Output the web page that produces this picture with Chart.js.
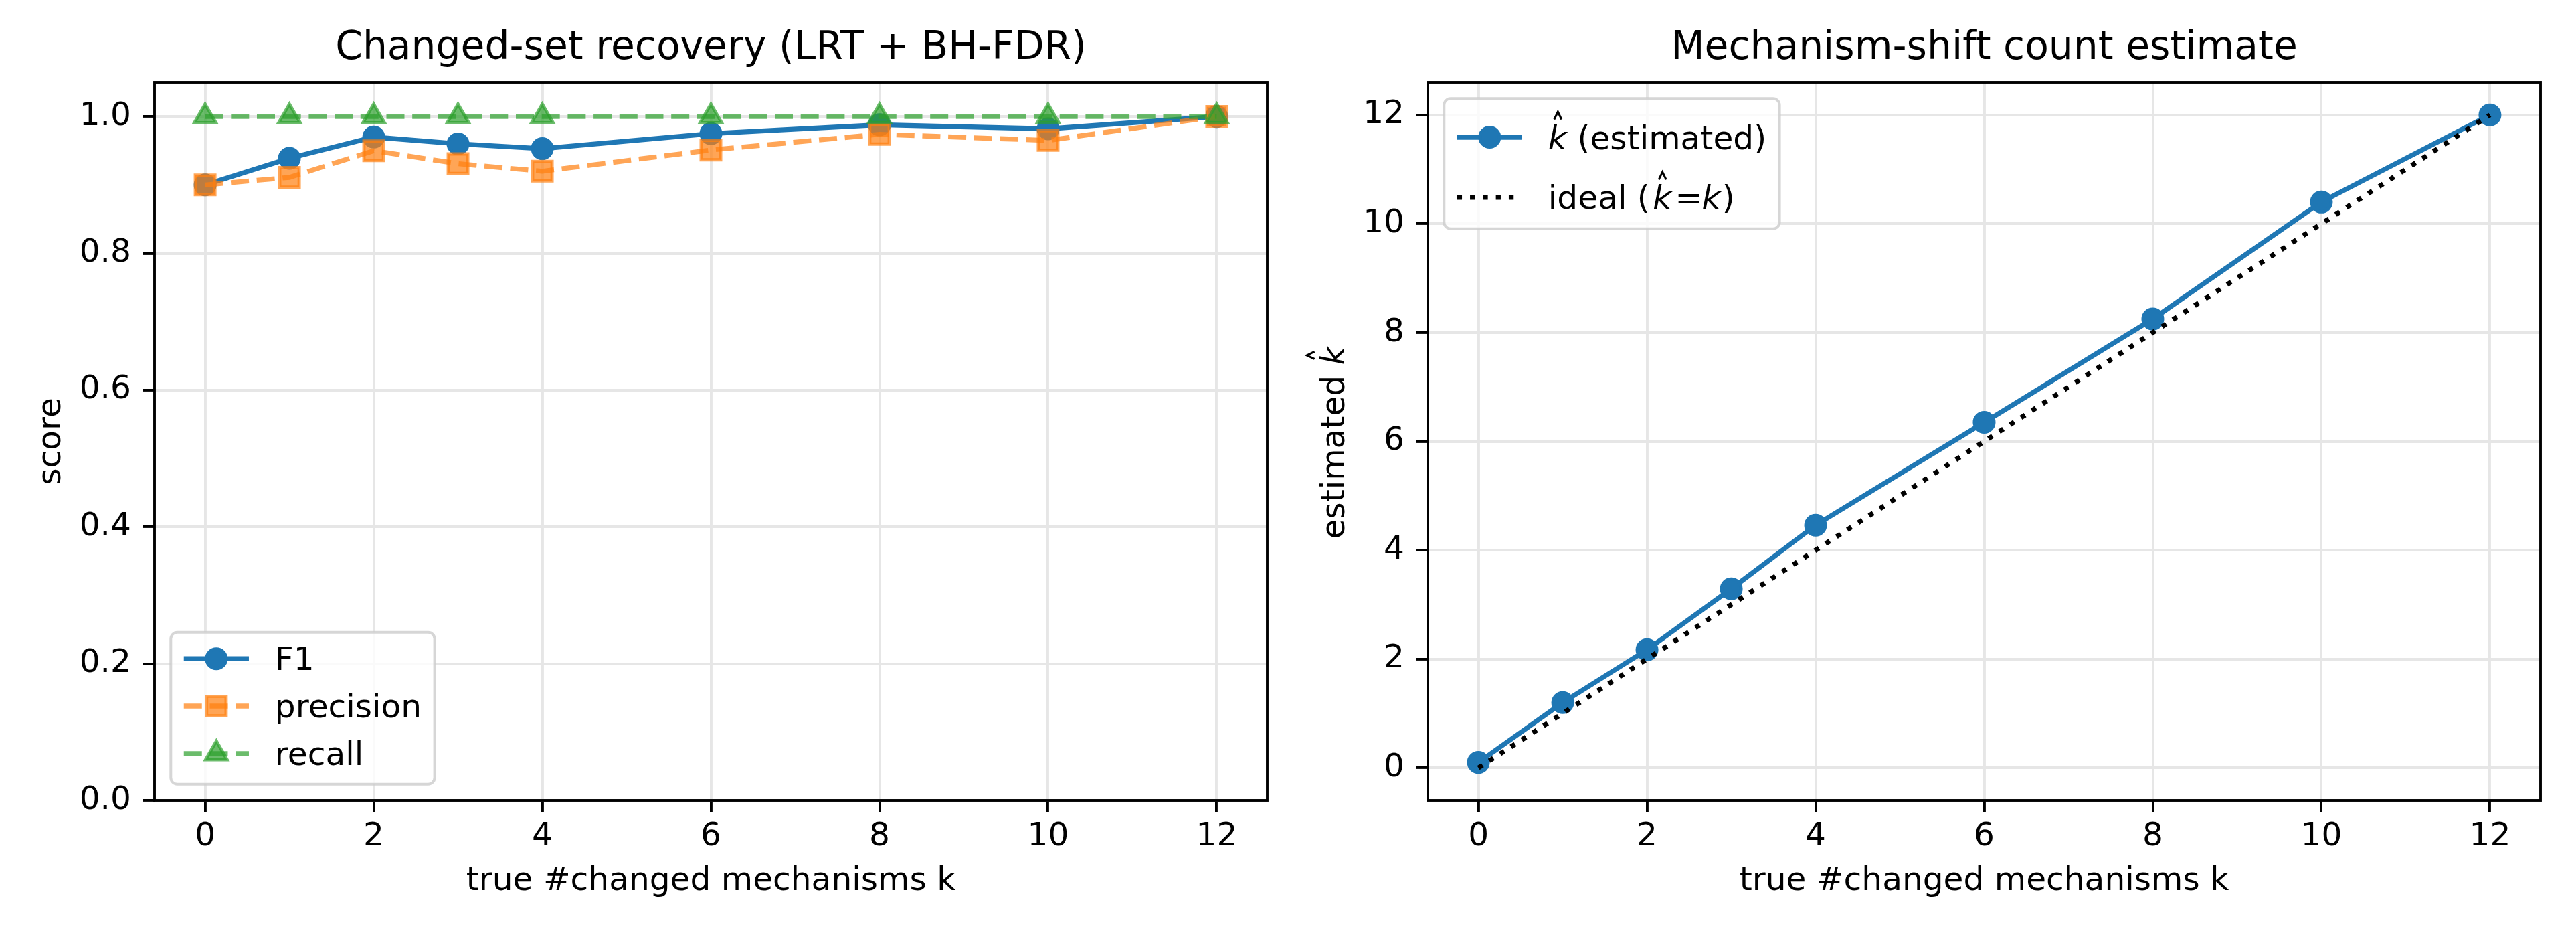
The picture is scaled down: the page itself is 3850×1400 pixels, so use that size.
<!DOCTYPE html>
<html><head><meta charset="utf-8">
<script src="https://cdn.jsdelivr.net/npm/chart.js@4.4.1/dist/chart.umd.min.js"></script>
<style>
html,body{margin:0;padding:0;background:#fff;}
body{width:3850px;height:1400px;position:relative;overflow:hidden;}
.box{position:absolute;top:0;height:1400px;width:1925px;}
</style></head><body>
<div class="box" style="left:0"><canvas id="c1"></canvas></div>
<div class="box" style="left:1925px"><canvas id="c2"></canvas></div>
<script>
// ---- data ----
const kValues = [0, 1, 2, 3, 4, 6, 8, 10, 12];
const f1Scores = [0.900, 0.939, 0.970, 0.960, 0.953, 0.975, 0.988, 0.982, 1.000];
const precisionScores = [0.900, 0.911, 0.950, 0.931, 0.920, 0.951, 0.974, 0.965, 1.000];
const recallScores = [1.0, 1.0, 1.0, 1.0, 1.0, 1.0, 1.0, 1.0, 1.0];
const kHatValues = [0.10, 1.20, 2.17, 3.29, 4.46, 6.35, 8.25, 10.40, 12.00];
const idealValues = [0, 1, 2, 3, 4, 6, 8, 10, 12];
const xTicks = [0, 2, 4, 6, 8, 10, 12];
const scoreTicks = [0.0, 0.2, 0.4, 0.6, 0.8, 1.0];
const kHatTicks = [0, 2, 4, 6, 8, 10, 12];

// ---- style ----
const PT = 350 / 72;
const FS = 10 * PT, TFS = 12 * PT;
const LW = 1.5 * PT, EW = 1.0 * PT, SPW = 0.8 * PT;
const GRID = '#e6e6e6';
const FONT = '"DejaVu Sans"';
Chart.defaults.font.family = FONT;
Chart.defaults.color = '#000';

function pts(xs, ys) { return xs.map((x, i) => ({x: x, y: ys[i]})); }

function xScale() {
  return {
    type: 'linear', min: -0.6, max: 12.6,
    afterBuildTicks: s => { s.ticks = xTicks.map(v => ({value: v})); },
    afterFit: s => { s.height = 204; },
    grid: {color: GRID, lineWidth: SPW, tickLength: 17, tickColor: '#000', tickWidth: SPW, drawTicks: true},
    border: {display: false},
    ticks: {padding: 8.5, font: {size: FS}, color: '#000', autoSkip: false, maxRotation: 0, callback: v => String(v)},
    title: {display: true, text: 'true #changed mechanisms k', font: {size: FS}, color: '#000', padding: {top: 0, bottom: 53.6}}
  };
}

function roundRect(ctx, x, y, w, h, r) {
  ctx.beginPath();
  ctx.moveTo(x + r, y);
  ctx.lineTo(x + w - r, y); ctx.arcTo(x + w, y, x + w, y + r, r);
  ctx.lineTo(x + w, y + h - r); ctx.arcTo(x + w, y + h, x + w - r, y + h, r);
  ctx.lineTo(x + r, y + h); ctx.arcTo(x, y + h, x, y + h - r, r);
  ctx.lineTo(x, y + r); ctx.arcTo(x, y, x + r, y, r);
  ctx.closePath();
}

// lay out text runs: normal runs follow the previous advance; runs with `ink`
// are placed so that the ink gap to the previous run equals `ink` (math spacing).
function layoutRich(ctx, runs) {
  let x = 0, prevInkRight = 0;
  const out = [];
  for (const r of runs) {
    const font = (r.it ? 'italic ' : '') + FS + 'px ' + FONT;
    ctx.font = font;
    const m = ctx.measureText(r.t);
    let ox = x;
    if (r.ink !== undefined) ox = prevInkRight + r.ink + m.actualBoundingBoxLeft;
    out.push({r: r, font: font, x: ox});
    x = ox + m.width;
    prevInkRight = ox + m.actualBoundingBoxRight;
  }
  return {items: out, width: Math.max(x, prevInkRight)};
}
function drawRich(ctx, runs, x0, y) {
  const L = layoutRich(ctx, runs);
  ctx.textAlign = 'left'; ctx.textBaseline = 'alphabetic'; ctx.fillStyle = '#000';
  for (const it of L.items) {
    ctx.font = it.font;
    const x = x0 + it.x;
    ctx.fillText(it.r.t, x, y);
    if (it.r.hat) {
      ctx.save();
      ctx.strokeStyle = '#000'; ctx.lineWidth = 3; ctx.setLineDash([]);
      ctx.lineJoin = 'miter'; ctx.lineCap = 'butt';
      ctx.beginPath();
      ctx.moveTo(x + 9, y - 44); ctx.lineTo(x + 14.5, y - 55.5); ctx.lineTo(x + 20, y - 44);
      ctx.stroke();
      ctx.restore();
    }
  }
  return L.width;
}

const BORDERPAD = 0.4 * FS, HANDLE = 2.0 * FS, HANDLEPAD = 0.8 * FS, LABELSP = 0.5 * FS, AXPAD = 0.5 * FS;

function drawLegend(chart, spec) {
  const ctx = chart.ctx, ca = chart.chartArea;
  const items = spec.items;
  ctx.save();
  const tw = Math.max(...items.map(it => layoutRich(ctx, it.runs).width));
  const W = BORDERPAD * 2 + HANDLE + HANDLEPAD + tw;
  const H = BORDERPAD * 2 + items.length * spec.rowH + (items.length - 1) * LABELSP;
  const x0 = ca.left + AXPAD;
  const y0 = spec.loc === 'upper left' ? ca.top + AXPAD : ca.bottom - AXPAD - H;
  roundRect(ctx, x0, y0, W, H, 0.2 * FS);
  ctx.fillStyle = 'rgba(255,255,255,0.8)';
  ctx.fill();
  ctx.lineWidth = 4; ctx.strokeStyle = 'rgba(204,204,204,0.8)'; ctx.setLineDash([]);
  ctx.stroke();
  items.forEach((it, i) => {
    const ds = chart.data.datasets[it.ds];
    const cy = y0 + spec.firstOff + i * (spec.rowH + LABELSP);
    const hx0 = x0 + BORDERPAD, hx1 = hx0 + HANDLE;
    ctx.save();
    ctx.strokeStyle = ds.borderColor; ctx.lineWidth = ds.borderWidth;
    ctx.lineCap = 'butt';
    ctx.setLineDash(ds.borderDash || []);
    ctx.beginPath(); ctx.moveTo(hx0, cy); ctx.lineTo(hx1, cy); ctx.stroke();
    ctx.setLineDash([]);
    if (ds.pointRadius > 0) {
      ctx.fillStyle = ds.pointBackgroundColor; ctx.strokeStyle = ds.pointBorderColor;
      ctx.lineWidth = ds.pointBorderWidth;
      Chart.helpers.drawPoint(ctx, {pointStyle: ds.pointStyle, radius: ds.pointRadius, borderWidth: ds.pointBorderWidth, rotation: 0}, (hx0 + hx1) / 2, cy);
    }
    ctx.restore();
    drawRich(ctx, it.runs, hx1 + HANDLEPAD, cy + spec.baseOff);
  });
  ctx.restore();
}

const decor = {
  id: 'decor',
  afterLayout(chart) {
    const t = chart.titleBlock, ca = chart.chartArea;
    if (t) { t.left = ca.left; t.right = ca.right; t.width = ca.right - ca.left; }
  },
  afterDatasetsDraw(chart) {
    const ctx = chart.ctx, ca = chart.chartArea;
    ctx.save();
    ctx.strokeStyle = '#000'; ctx.lineWidth = SPW; ctx.setLineDash([]);
    ctx.strokeRect(ca.left, ca.top, ca.right - ca.left, ca.bottom - ca.top);
    ctx.restore();
    const o = chart.options.plugins.decor;
    if (o && o.legend) drawLegend(chart, o.legend);
    if (o && o.yLabel) {
      ctx.save();
      const w = layoutRich(ctx, o.yLabel.runs).width;
      ctx.translate(o.yLabel.x, (ca.top + ca.bottom) / 2 + 1);
      ctx.rotate(-Math.PI / 2);
      drawRich(ctx, o.yLabel.runs, -w / 2, 0);
      ctx.restore();
    }
  }
};

function baseOptions(titleText, yScale, rightPad, decorOpts) {
  return {
    responsive: true, maintainAspectRatio: false, devicePixelRatio: 1,
    animation: false, events: [],
    layout: {padding: {left: 0, top: 0, right: rightPad, bottom: 0}},
    scales: {x: xScale(), y: yScale},
    plugins: {
      legend: {display: false}, tooltip: {enabled: false},
      title: {display: true, text: titleText, color: '#000', font: {size: TFS, weight: 'normal'}, padding: {top: 38.3, bottom: 14.7}},
      decor: decorOpts
    }
  };
}

// ---- chart 1: changed-set recovery ----
new Chart(document.getElementById('c1'), {
  type: 'line',
  data: {datasets: [
    {label: 'F1', data: pts(kValues, f1Scores), borderColor: '#1f77b4', backgroundColor: '#1f77b4',
     borderWidth: LW, pointStyle: 'circle', pointRadius: 14.6, pointBorderWidth: EW,
     pointBackgroundColor: '#1f77b4', pointBorderColor: '#1f77b4', tension: 0, order: 3, clip: false},
    {label: 'precision', data: pts(kValues, precisionScores), borderColor: 'rgba(255,127,14,0.7)', backgroundColor: 'rgba(255,127,14,0.7)',
     borderWidth: LW, borderDash: [27, 11.7], pointStyle: 'rect', pointRadius: 20.6, pointBorderWidth: EW,
     pointBackgroundColor: 'rgba(255,127,14,0.7)', pointBorderColor: 'rgba(255,127,14,0.7)', tension: 0, order: 2, clip: false},
    {label: 'recall', data: pts(kValues, recallScores), borderColor: 'rgba(44,160,44,0.7)', backgroundColor: 'rgba(44,160,44,0.7)',
     borderWidth: LW, borderDash: [27, 11.7], pointStyle: 'triangle', pointRadius: 18.5, pointBorderWidth: EW,
     pointBackgroundColor: 'rgba(44,160,44,0.7)', pointBorderColor: 'rgba(44,160,44,0.7)', tension: 0, order: 1, clip: false}
  ]},
  options: baseOptions('Changed-set recovery (LRT + BH-FDR)', {
    type: 'linear', min: 0, max: 1.05,
    afterBuildTicks: s => { s.ticks = scoreTicks.map(v => ({value: v})); },
    afterFit: s => { s.width = 231; },
    grid: {color: GRID, lineWidth: SPW, tickLength: 17, tickColor: '#000', tickWidth: SPW, drawTicks: true},
    border: {display: false},
    ticks: {padding: 18, font: {size: FS}, color: '#000', autoSkip: false, callback: v => Number(v).toFixed(1)},
    title: {display: true, text: 'score', font: {size: FS}, color: '#000', padding: {top: 48.6, bottom: 0}}
  }, 31, {
    legend: {loc: 'lower left', rowH: 46.5, firstOff: 39.5, baseOff: 16.7, items: [
      {ds: 0, runs: [{t: 'F1'}]},
      {ds: 1, runs: [{t: 'precision'}]},
      {ds: 2, runs: [{t: 'recall'}]}
    ]}
  }),
  plugins: [decor]
});

// ---- chart 2: mechanism-shift count estimate ----
new Chart(document.getElementById('c2'), {
  type: 'line',
  data: {datasets: [
    {label: 'k̂ (estimated)', data: pts(kValues, kHatValues), borderColor: '#1f77b4', backgroundColor: '#1f77b4',
     borderWidth: LW, pointStyle: 'circle', pointRadius: 14.6, pointBorderWidth: EW,
     pointBackgroundColor: '#1f77b4', pointBorderColor: '#1f77b4', tension: 0, order: 2, clip: false},
    {label: 'ideal (k̂ = k)', data: pts(kValues, idealValues), borderColor: '#000', backgroundColor: '#000',
     borderWidth: LW, borderDash: [7.3, 12], pointRadius: 0, tension: 0, order: 1, clip: false}
  ]},
  options: baseOptions('Mechanism-shift count estimate', {
    type: 'linear', min: -0.6, max: 12.6,
    afterBuildTicks: s => { s.ticks = kHatTicks.map(v => ({value: v})); },
    afterFit: s => { s.width = 209; },
    grid: {color: GRID, lineWidth: SPW, tickLength: 17, tickColor: '#000', tickWidth: SPW, drawTicks: true},
    border: {display: false},
    ticks: {padding: 18, font: {size: FS}, color: '#000', autoSkip: false, callback: v => String(v)},
    title: {display: false}
  }, 53, {
    legend: {loc: 'upper left', rowH: 65.6, firstOff: 57.7, baseOff: 17.5, items: [
      {ds: 0, runs: [{t: 'k', it: true, hat: true}, {t: ' (estimated)'}]},
      {ds: 1, runs: [{t: 'ideal ('}, {t: 'k', it: true, hat: true, ink: 8.3}, {t: '=', ink: 8.3}, {t: 'k', it: true, ink: 5}, {t: ')', ink: 3.3}]}
    ]},
    yLabel: {x: 2008.6 - 1925, runs: [{t: 'estimated '}, {t: 'k', it: true, hat: true}]}
  }),
  plugins: [decor]
});
</script>
</body></html>
